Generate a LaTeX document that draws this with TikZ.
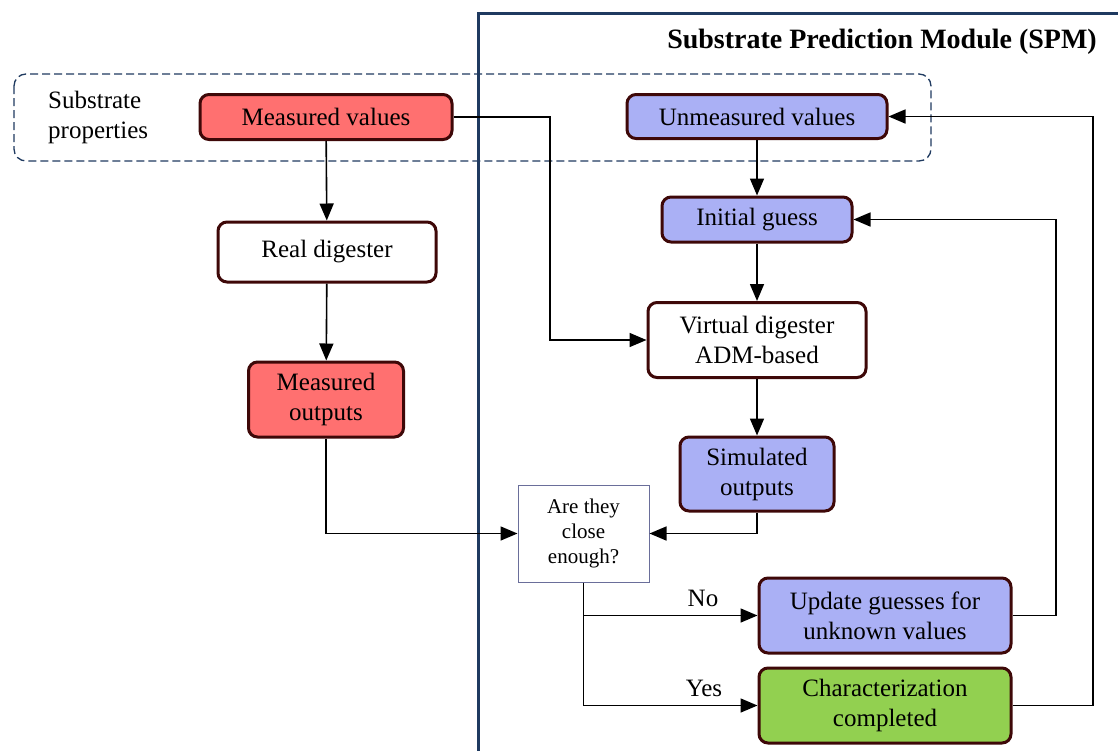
\documentclass[tikz,border=0pt]{standalone}
\usepackage{fontspec}
\setmainfont{Liberation Serif}
\usetikzlibrary{arrows.meta}
\definecolor{redfill}{HTML}{FF7070}
\definecolor{bluefill}{HTML}{AAB0F5}
\definecolor{greenfill}{HTML}{92D050}
\definecolor{bordercol}{HTML}{3E0808}
\definecolor{framecol}{HTML}{1F3A60}
\definecolor{accol}{HTML}{6A6E9A}
\tikzset{
  box/.style={draw=bordercol, line width=3pt, rounded corners=9pt, align=center,
    inner sep=0pt, font=\fontsize{25}{30}\selectfont},
  redbox/.style={box, fill=redfill},
  bluebox/.style={box, fill=bluefill},
  greenbox/.style={box, fill=greenfill},
  whitebox/.style={box, fill=white},
  decbox/.style={draw=accol, line width=1pt, fill=white, align=center, inner sep=0pt,
    font=\fontsize{21}{25}\selectfont},
  conn/.style={line width=1.6pt, draw=black},
  arr/.style={conn, -{Triangle[length=17pt,width=14pt]}},
  lbl/.style={font=\fontsize{25}{30}\selectfont, inner sep=0pt},
}
\begin{document}
\begin{tikzpicture}[x=1pt,y=-1pt]
\useasboundingbox (0,0) rectangle (1118,750);
\clip (0,0) rectangle (1118,750);
\fill[white] (0,0) rectangle (1118,750);
% dashed grouping box
\draw[framecol, line width=1.3pt, dash pattern=on 8pt off 4pt, rounded corners=12pt]
  (14,74) rectangle (931,161);
% SPM frame
\draw[framecol, line width=3pt] (478,13) rectangle (1135,765);
\node[font=\bfseries\fontsize{28}{30}\selectfont, anchor=east, inner sep=0pt] (title) at (1097,42)
  {Substrate Prediction Module (SPM)};
\node[lbl, anchor=west, align=left] (sp) at (48,117) {Substrate\\properties};
% nodes
\node[redbox, minimum width=252pt, minimum height=45pt] (mv) at (326,117) {Measured values};
\node[bluebox, minimum width=260pt, minimum height=44pt] (uv) at (757,116.5) {Unmeasured values};
\node[bluebox, minimum width=190pt, minimum height=45pt] (ig) at (757,219.5) {Initial guess};
\node[whitebox, minimum width=218pt, minimum height=60pt] (rd) at (327,252) {Real digester};
\node[whitebox, minimum width=218pt, minimum height=75pt] (vd) at (757,340) {Virtual digester\\ADM-based};
\node[redbox, minimum width=155pt, minimum height=75pt] (mo) at (326,399.5) {Measured\\outputs};
\node[bluebox, minimum width=154pt, minimum height=74pt] (so) at (757,474) {Simulated\\outputs};
\node[decbox, minimum width=131pt, minimum height=97pt] (ac) at (583.5,533.5) {Are they\\close\\enough?};
\node[bluebox, minimum width=252pt, minimum height=75pt] (ug) at (885,615.5) {Update guesses for\\unknown values};
\node[greenbox, minimum width=252pt, minimum height=75pt] (cc) at (885,705.5) {Characterization\\completed};
% junction coordinates
\coordinate (j1) at (550,340);
\coordinate (r1) at (1056,400);
\coordinate (r2) at (1093,400);
% connectors
\draw[arr] (mv) -- (rd);
\draw[arr] (rd) -- (mo);
\draw[arr] (mo.south) |- (ac.west);
\draw[arr] (mv.east) -| (j1) -- (vd.west);
\draw[arr] (uv) -- (ig);
\draw[arr] (ig) -- (vd);
\draw[arr] (vd) -- (so);
\draw[arr] (so.south) |- (ac.east);
\draw[arr] (ac.south) |- (ug.west);
\draw[arr] (ac.south) |- (cc.west);
\draw[arr] (ug.east) -| (r1) |- (ig.east);
\draw[arr] (cc.east) -| (r2) |- (uv.east);
% labels
\node[lbl] (no) at (703,598) {No};
\node[lbl] (yes) at (704,688) {Yes};
\end{tikzpicture}
\end{document}
